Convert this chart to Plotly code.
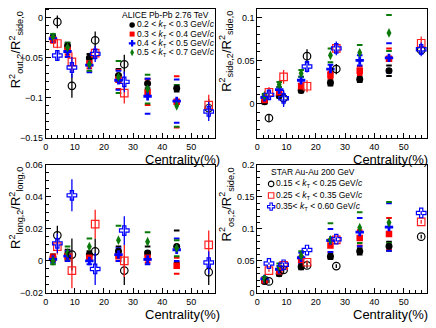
import plotly.graph_objects as go
from plotly.subplots import make_subplots

W, H = 436, 328

# centrality bins
cent_alice = [2.5, 7.5, 15, 25, 35, 45]
cent_star = [4, 9, 17, 27, 56]

# R2_out,2 / R2_side,0
out_a1 = [-0.025, -0.035, -0.050, -0.072, -0.082, -0.088]
out_a1_sys = [0.003, 0.004, 0.005, 0.008, 0.006, 0.004]
out_a2 = [-0.027, -0.040, -0.057, -0.077, -0.093, -0.105]
out_a2_sys = [0.004, 0.006, 0.006, 0.012, 0.016, 0.032]
out_a3 = [-0.026, -0.042, -0.059, -0.078, -0.098, -0.104]
out_a3_sys = [0.004, 0.007, 0.009, 0.012, 0.022, 0.027]
out_a4 = [-0.024, -0.037, -0.058, -0.074, -0.089, -0.110]
out_a4_sys = [0.004, 0.006, 0.008, 0.020, 0.018, 0.026]
out_s1 = [-0.005, -0.085, -0.028, -0.058, -0.113]
out_s1_err = [0.008, 0.015, 0.011, 0.012, 0.012]
out_s2 = [-0.032, -0.055, -0.044, -0.094, -0.109]
out_s2_err = [0.006, 0.012, 0.007, 0.013, 0.013]
out_s3 = [-0.047, -0.062, -0.045, -0.080, -0.117]
out_s3_err = [0.007, 0.013, 0.010, 0.013, 0.012]

# R2_side,2 / R2_side,0
side_a1 = [0.002, 0.009, 0.015, 0.024, 0.028, 0.038]
side_a1_sys = [0.002, 0.002, 0.002, 0.003, 0.003, 0.006]
side_a2 = [0.004, 0.013, 0.020, 0.033, 0.038, 0.052]
side_a2_sys = [0.002, 0.003, 0.003, 0.004, 0.005, 0.012]
side_a3 = [0.007, 0.016, 0.027, 0.040, 0.050, 0.053]
side_a3_sys = [0.002, 0.003, 0.004, 0.005, 0.006, 0.017]
side_a4 = [0.009, 0.022, 0.035, 0.056, 0.059, 0.082]
side_a4_sys = [0.002, 0.003, 0.004, 0.008, 0.009, 0.021]
side_s1 = [-0.017, 0.006, 0.055, 0.040, 0.062]
side_s1_err = [0.004, 0.008, 0.008, 0.006, 0.005]
side_s2 = [0.013, 0.031, 0.020, 0.064, 0.070]
side_s2_err = [0.006, 0.008, 0.007, 0.006, 0.008]
side_s3 = [0.010, 0.006, 0.043, 0.064, 0.063]
side_s3_err = [0.006, 0.010, 0.007, 0.008, 0.008]

# R2_long,2 / R2_long,0
long_a1 = [0.002, 0.004, 0.004, 0.006, 0.005, 0.009]
long_a1_sys = [0.002, 0.003, 0.002, 0.003, 0.004, 0.010]
long_a2 = [0.002, 0.003, 0.002, 0.003, 0.002, -0.003]
long_a2_sys = [0.002, 0.003, 0.002, 0.003, 0.003, 0.005]
long_a3 = [0.001, 0.003, 0.000, 0.004, 0.001, 0.007]
long_a3_sys = [0.002, 0.003, 0.002, 0.004, 0.003, 0.007]
long_a4 = [0.000, 0.005, 0.009, 0.013, 0.012, 0.008]
long_a4_sys = [0.002, 0.004, 0.005, 0.009, 0.006, 0.005]
long_s1 = [0.016, 0.004, 0.006, -0.006, -0.007]
long_s1_err = [0.006, 0.010, 0.008, 0.009, 0.008]
long_s2 = [0.009, -0.006, 0.023, 0.000, 0.010]
long_s2_err = [0.005, 0.011, 0.009, 0.010, 0.009]
long_s3 = [0.011, 0.041, -0.005, 0.019, -0.001]
long_s3_err = [0.006, 0.010, 0.010, 0.009, 0.007]

# R2_os,2 / R2_side,0
os_a1 = [0.018, 0.030, 0.041, 0.057, 0.065, 0.073]
os_a1_sys = [0.003, 0.003, 0.004, 0.004, 0.005, 0.007]
os_a2 = [0.020, 0.034, 0.052, 0.074, 0.086, 0.092]
os_a2_sys = [0.003, 0.004, 0.005, 0.010, 0.012, 0.025]
os_a3 = [0.022, 0.037, 0.055, 0.082, 0.095, 0.103]
os_a3_sys = [0.003, 0.005, 0.008, 0.018, 0.022, 0.037]
os_a4 = [0.022, 0.040, 0.058, 0.083, 0.102, 0.110]
os_a4_sys = [0.003, 0.006, 0.007, 0.026, 0.024, 0.032]
os_s1 = [0.018, 0.036, 0.043, 0.042, 0.088]
os_s1_err = [0.003, 0.005, 0.004, 0.003, 0.003]
os_s2 = [0.035, 0.043, 0.048, 0.083, 0.111]
os_s2_err = [0.002, 0.003, 0.003, 0.003, 0.003]
os_s3 = [0.046, 0.044, 0.067, 0.084, 0.125]
os_s3_err = [0.002, 0.003, 0.003, 0.003, 0.003]

alice_labels = ["0.2 < <i>k</i><sub>T</sub> < 0.3 GeV/<i>c</i>",
                "0.3 < <i>k</i><sub>T</sub> < 0.4 GeV/<i>c</i>",
                "0.4 < <i>k</i><sub>T</sub> < 0.5 GeV/<i>c</i>",
                "0.5 < <i>k</i><sub>T</sub> < 0.7 GeV/<i>c</i>"]
star_labels = ["0.15 < <i>k</i><sub>T</sub> < 0.25 GeV/<i>c</i>",
               "0.25 < <i>k</i><sub>T</sub> < 0.35 GeV/<i>c</i>",
               "0.35< <i>k</i><sub>T</sub> < 0.60 GeV/<i>c</i>"]

FONT = "Liberation Sans, Arial, sans-serif"
GREEN = "#0b7a0b"
alice_style = [("black", "circle", 7), ("#ff0000", "square", 6.5),
               ("#0000ff", "cross", 7), (GREEN, "diamond-tall", 7)]
star_style = [("black", "circle-open", 7.5), ("#ff2020", "square-open", 7.5),
              ("#0000ff", "cross-open", 8)]

fig = make_subplots(rows=2, cols=2)


def add_panel(row, col, alice, alice_sys, star, star_err):
    # systematic dashes
    for (c, s, sz), y, sy in zip(alice_style, alice, alice_sys):
        yy = [v + e for v, e in zip(y, sy)] + [v - e for v, e in zip(y, sy)]
        fig.add_trace(go.Scatter(x=cent_alice + cent_alice, y=yy, mode="markers",
                                 marker=dict(symbol="line-ew", size=4, line=dict(color=c, width=2)),
                                 showlegend=False, hoverinfo="skip"), row=row, col=col)
    for (c, s, sz), y in zip(alice_style, alice):
        fig.add_trace(go.Scatter(x=cent_alice, y=y, mode="markers",
                                 marker=dict(symbol=s, size=sz, color=c, line=dict(width=0)),
                                 showlegend=False), row=row, col=col)
    for (c, s, sz), y, e in zip(star_style, star, star_err):
        fig.add_trace(go.Scatter(x=cent_star, y=y, mode="markers",
                                 error_y=dict(type="data", array=e, color=c, thickness=1.3, width=0),
                                 marker=dict(symbol=s, size=sz, color=c, line=dict(width=1.2, color=c)),
                                 showlegend=False), row=row, col=col)


add_panel(1, 1, [out_a1, out_a2, out_a3, out_a4], [out_a1_sys, out_a2_sys, out_a3_sys, out_a4_sys],
          [out_s1, out_s2, out_s3], [out_s1_err, out_s2_err, out_s3_err])
add_panel(1, 2, [side_a1, side_a2, side_a3, side_a4], [side_a1_sys, side_a2_sys, side_a3_sys, side_a4_sys],
          [side_s1, side_s2, side_s3], [side_s1_err, side_s2_err, side_s3_err])
add_panel(2, 1, [long_a1, long_a2, long_a3, long_a4], [long_a1_sys, long_a2_sys, long_a3_sys, long_a4_sys],
          [long_s1, long_s2, long_s3], [long_s1_err, long_s2_err, long_s3_err])
add_panel(2, 2, [os_a1, os_a2, os_a3, os_a4], [os_a1_sys, os_a2_sys, os_a3_sys, os_a4_sys],
          [os_s1, os_s2, os_s3], [os_s1_err, os_s2_err, os_s3_err])


def px(x):
    return x / W


def py(y):
    return 1 - y / H


col_x = [[px(43), px(213)], [px(256), px(427)]]
row_y = [[py(137), py(4)], [py(297), py(165)]]

y_ranges = [[-0.15, 0.0113], [-0.04, 0.11], [-0.02, 0.06], [0, 0.2]]
y_dtick = [0.05, 0.05, 0.02, 0.05]
y_minor = [0.01, 0.01, 0.005, 0.01]

for i in range(4):
    r, c = divmod(i, 2)
    fig.update_xaxes(domain=col_x[c], range=[0, 58], dtick=10, tick0=0, ticklen=5,
                     showline=True, linecolor="black", linewidth=1, mirror=True,
                     ticks="inside", tickcolor="black", showgrid=False, zeroline=False,
                     tickfont=dict(family=FONT, size=9, color="black"),
                     minor=dict(dtick=2, ticks="inside", ticklen=3, tickcolor="black", showgrid=False),
                     row=r + 1, col=c + 1)
    fig.update_yaxes(domain=row_y[r], range=y_ranges[i], dtick=y_dtick[i], tick0=0, ticklen=5,
                     showline=True, linecolor="black", linewidth=1, mirror=True,
                     ticks="inside", tickcolor="black", showgrid=False, zeroline=False,
                     tickfont=dict(family=FONT, size=9, color="black"),
                     minor=dict(dtick=y_minor[i], ticks="inside", ticklen=3, tickcolor="black", showgrid=False),
                     row=r + 1, col=c + 1)

ann = []
y_titles = ["R<sup>2</sup><sub>out,2</sub>/R<sup>2</sup><sub>side,0</sub>",
            "R<sup>2</sup><sub>side,2</sub>/R<sup>2</sup><sub>side,0</sub>",
            "R<sup>2</sup><sub>long,2</sub>/R<sup>2</sup><sub>long,0</sub>",
            "R<sup>2</sup><sub>os,2</sub>/R<sup>2</sup><sub>side,0</sub>"]
title_x = [13, 225]
for i in range(4):
    r, c = divmod(i, 2)
    ann.append(dict(x=px(title_x[c]), y=row_y[r][1], xref="paper", yref="paper",
                    text=y_titles[i], textangle=-90, showarrow=False,
                    xanchor="center", yanchor="top", font=dict(family=FONT, size=13, color="black")))
    ann.append(dict(x=px([220, 429][c]), y=py([159, 319.5][r]), xref="paper", yref="paper",
                    text="Centrality(%)", showarrow=False, xanchor="right", yanchor="middle",
                    borderpad=0, font=dict(family=FONT, size=13, color="black")))

# hidden full-figure axis pair for the legend keys
fig.update_layout(xaxis5=dict(domain=[0, 1], range=[0, W], visible=False, anchor="y5", fixedrange=True),
                  yaxis5=dict(domain=[0, 1], range=[H, 0], visible=False, anchor="x5", fixedrange=True))

# ALICE legend
ann.append(dict(x=px(209), y=py(10.5), xref="paper", yref="paper", text="ALICE Pb-Pb 2.76 TeV",
                showarrow=False, xanchor="right", yanchor="middle", font=dict(family=FONT, size=8.5, color="black")))
alice_leg_y = [20.5, 30, 39.5, 49]
for (c, s, sz), lab, ly in zip(alice_style, alice_labels, alice_leg_y):
    ann.append(dict(x=px(133), y=py(ly), xref="paper", yref="paper", text=lab, showarrow=False,
                    xanchor="left", yanchor="middle", font=dict(family=FONT, size=8.5, color="black")))
    fig.add_trace(go.Scatter(x=[130], y=[ly], xaxis="x5", yaxis="y5", mode="markers",
                             marker=dict(symbol=s, size=sz - 1.5, color=c), showlegend=False, hoverinfo="skip"))

# STAR legend
ann.append(dict(x=px(268), y=py(172), xref="paper", yref="paper", text="STAR Au-Au 200 GeV",
                showarrow=False, xanchor="left", yanchor="middle", font=dict(family=FONT, size=8.5, color="black")))
star_leg_y = [184.5, 196.5, 208]
for (c, s, sz), lab, ly in zip(star_style, star_labels, star_leg_y):
    ann.append(dict(x=px(273), y=py(ly), xref="paper", yref="paper", text=lab, showarrow=False,
                    xanchor="left", yanchor="middle", font=dict(family=FONT, size=8.5, color="black")))
    fig.add_trace(go.Scatter(x=[270], y=[ly], xaxis="x5", yaxis="y5", mode="markers",
                             marker=dict(symbol=s, size=sz - 2, color=c, line=dict(width=1.1, color=c)),
                             showlegend=False, hoverinfo="skip"))

fig.update_layout(width=W, height=H, margin=dict(l=0, r=0, t=0, b=0),
                  paper_bgcolor="white", plot_bgcolor="rgba(0,0,0,0)",
                  showlegend=False, annotations=ann, font=dict(family=FONT, color="black"))

fig.write_html("out.html", config={"displayModeBar": False},
               post_script="document.body.style.margin='0';")
